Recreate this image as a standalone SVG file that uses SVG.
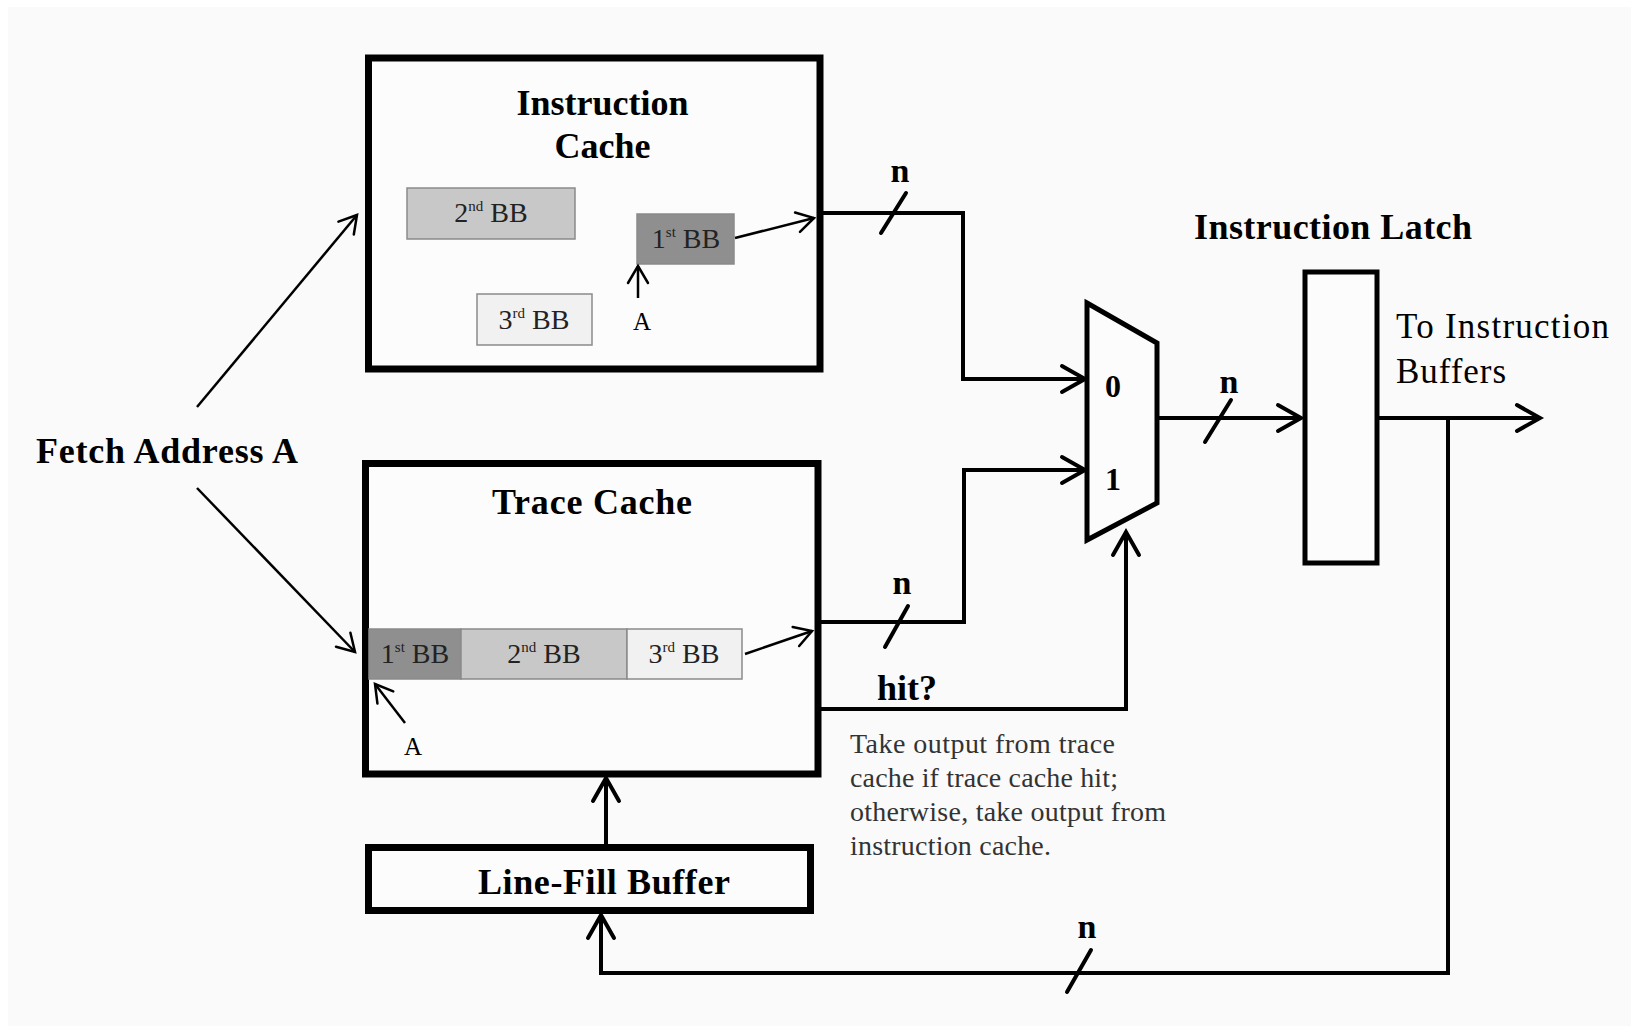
<svg xmlns="http://www.w3.org/2000/svg" width="1631" height="1026" viewBox="0 0 1631 1026">
<defs>
<style>
.box{fill:#fcfcfc;stroke:#000;stroke-width:7}
.blk{fill:#fcfcfc;stroke:#000;stroke-width:5}
.bb{stroke:#8a8a8a;stroke-width:1.5}
.b1{fill:#8f8f8f}.b2{fill:#c8c8c8}.b3{fill:#f1f1f1}
.t{font-family:"Liberation Serif","Times New Roman",serif;fill:#000}
.bold{font-weight:bold}
.bbt{font-family:"Liberation Serif","Times New Roman",serif;font-size:28px;fill:#222;text-anchor:middle}
.sup{font-size:15px}
.note{font-family:"Liberation Serif","Times New Roman",serif;font-size:28px;fill:#333}
.w{fill:none;stroke:#000;stroke-width:4;stroke-linejoin:miter}
.thin{fill:none;stroke:#000;stroke-width:2.5}
.sl{stroke:#000;stroke-width:4;stroke-linecap:round}
</style>
<marker id="ah" markerUnits="userSpaceOnUse" markerWidth="1" markerHeight="1" orient="auto" overflow="visible">
<path d="M-23,-13 L0,0 L-23,13" fill="none" stroke="#000" stroke-width="4" stroke-linecap="round"/>
</marker>
<marker id="aht" markerUnits="userSpaceOnUse" markerWidth="1" markerHeight="1" orient="auto" overflow="visible">
<path d="M-17,-10 L0,0 L-17,10" fill="none" stroke="#000" stroke-width="2.5" stroke-linecap="round"/>
</marker>
</defs>
<rect x="0" y="0" width="1631" height="1026" fill="#ffffff"/>
<rect x="8" y="7" width="1623" height="1019" fill="#fafafa"/>

<g id="fetch-address">
<text class="t bold" x="36" y="463" font-size="36" textLength="262" lengthAdjust="spacing">Fetch Address A</text>
</g>

<g id="instruction-cache">
<rect class="box" x="368.5" y="58" width="451.5" height="311"/>
<text class="t bold" x="602.5" y="115" font-size="36" text-anchor="middle">Instruction</text>
<text class="t bold" x="602.5" y="158" font-size="36" text-anchor="middle">Cache</text>
<rect class="bb b2" x="407" y="188" width="168" height="51"/>
<text class="bbt" x="491" y="222">2<tspan class="sup" dy="-11">nd</tspan><tspan dy="11"> BB</tspan></text>
<rect class="bb b1" x="637" y="214" width="97" height="50"/>
<text class="bbt" x="686" y="248">1<tspan class="sup" dy="-11">st</tspan><tspan dy="11"> BB</tspan></text>
<rect class="bb b3" x="477" y="294" width="115" height="51"/>
<text class="bbt" x="534" y="329">3<tspan class="sup" dy="-11">rd</tspan><tspan dy="11"> BB</tspan></text>
<text class="t" x="642" y="330" font-size="25" text-anchor="middle" fill="#222">A</text>
</g>

<g id="trace-cache">
<rect class="box" x="365.5" y="463.5" width="452.5" height="310.5"/>
<text class="t bold" x="592" y="514" font-size="36" text-anchor="middle" textLength="200" lengthAdjust="spacing">Trace Cache</text>
<rect class="bb b1" x="369" y="629" width="92" height="50"/>
<rect class="bb b2" x="461" y="629" width="166" height="50"/>
<rect class="bb b3" x="627" y="629" width="115" height="50"/>
<text class="bbt" x="415" y="663">1<tspan class="sup" dy="-11">st</tspan><tspan dy="11"> BB</tspan></text>
<text class="bbt" x="544" y="663">2<tspan class="sup" dy="-11">nd</tspan><tspan dy="11"> BB</tspan></text>
<text class="bbt" x="684" y="663">3<tspan class="sup" dy="-11">rd</tspan><tspan dy="11"> BB</tspan></text>
<text class="t" x="413" y="755" font-size="25" text-anchor="middle" fill="#222">A</text>
</g>

<g id="line-fill-buffer">
<rect class="box" x="368.5" y="847.5" width="442" height="63" stroke-width="5"/>
<text class="t bold" x="604" y="894" font-size="36" text-anchor="middle" textLength="252" lengthAdjust="spacing">Line-Fill Buffer</text>
</g>

<g id="mux">
<polygon class="blk" points="1087,303 1157,343 1157,503 1087,540"/>
<text class="t bold" x="1113" y="397" font-size="32" text-anchor="middle">0</text>
<text class="t bold" x="1113" y="490" font-size="32" text-anchor="middle">1</text>
</g>

<g id="instruction-latch">
<text class="t bold" x="1194" y="239" font-size="36" textLength="278" lengthAdjust="spacing">Instruction Latch</text>
<rect class="blk" x="1305" y="272" width="72" height="291"/>
</g>

<g id="output-label">
<text class="t" x="1396" y="338" font-size="35" textLength="213" lengthAdjust="spacing">To Instruction</text>
<text class="t" x="1396" y="383" font-size="35" textLength="110" lengthAdjust="spacing">Buffers</text>
</g>

<g id="note">
<text class="note" x="850" y="753" textLength="265" lengthAdjust="spacing">Take output from trace</text>
<text class="note" x="850" y="787" textLength="268" lengthAdjust="spacing">cache if trace cache hit;</text>
<text class="note" x="850" y="821" textLength="316" lengthAdjust="spacing">otherwise, take output from</text>
<text class="note" x="850" y="855" textLength="201" lengthAdjust="spacing">instruction cache.</text>
</g>

<g id="connectors">
<line class="thin" x1="197" y1="407" x2="357" y2="215" marker-end="url(#aht)"/>
<line class="thin" x1="197" y1="488" x2="355" y2="652" marker-end="url(#aht)"/>
<line class="thin" x1="735" y1="238" x2="814" y2="218" marker-end="url(#aht)"/>
<line class="thin" x1="638" y1="298" x2="638" y2="266" marker-end="url(#aht)"/>
<line class="thin" x1="745" y1="654" x2="812" y2="631" marker-end="url(#aht)"/>
<line class="thin" x1="405" y1="723" x2="375" y2="684" marker-end="url(#aht)"/>
<polyline class="w" points="820,213 963,213 963,379 1085,379" marker-end="url(#ah)"/>
<polyline class="w" points="818,622 964,622 964,470 1085,470" marker-end="url(#ah)"/>
<polyline class="w" points="818,709 1126,709 1126,532" marker-end="url(#ah)"/>
<line class="w" x1="1157" y1="418" x2="1301" y2="418" marker-end="url(#ah)"/>
<line class="w" x1="1377" y1="418" x2="1540" y2="418" marker-end="url(#ah)"/>
<polyline class="w" points="1448,418 1448,973 601,973 601,915" marker-end="url(#ah)"/>
<line class="w" x1="606" y1="845" x2="606" y2="778" marker-end="url(#ah)"/>
<line class="sl" x1="881" y1="233" x2="906" y2="193"/>
<line class="sl" x1="885" y1="647" x2="908" y2="606"/>
<line class="sl" x1="1205" y1="442" x2="1231" y2="400"/>
<line class="sl" x1="1067" y1="992" x2="1091" y2="950"/>
<text class="t bold" x="900" y="182" font-size="34" text-anchor="middle">n</text>
<text class="t bold" x="902" y="594" font-size="34" text-anchor="middle">n</text>
<text class="t bold" x="1229" y="393" font-size="34" text-anchor="middle">n</text>
<text class="t bold" x="1087" y="938" font-size="34" text-anchor="middle">n</text>
<text class="t bold" x="877" y="700" font-size="36">hit?</text>
</g>
</svg>
